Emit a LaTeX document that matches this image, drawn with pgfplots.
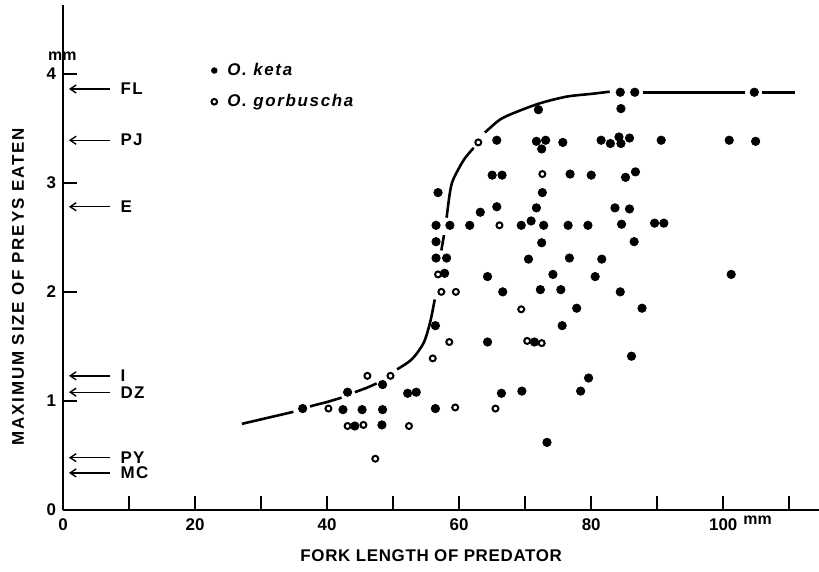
\documentclass[border=0pt]{standalone}
\usepackage{pgfplots}
\pgfplotsset{compat=1.18}
\usepackage{pgfplotstable}
\usepackage{fontspec}
\setmainfont{Liberation Sans}
\usetikzlibrary{arrows.meta}

\pgfplotstableread{
x y
36.3 0.93
43.1 1.08
42.4 0.92
45.3 0.92
48.4 0.92
44.2 0.77
48.3 0.78
48.4 1.15
52.2 1.07
53.5 1.08
56.5 2.31
58.1 2.31
57.8 2.17
64.3 2.14
74.2 2.16
80.6 2.14
66.6 2.00
72.3 2.02
75.4 2.02
77.8 1.85
56.4 1.69
75.6 1.69
64.3 1.54
71.4 1.54
79.6 1.21
66.4 1.07
69.5 1.09
78.4 1.09
56.4 0.93
73.3 0.62
72.0 3.67
65.7 3.39
71.7 3.38
73.1 3.39
72.5 3.31
75.7 3.37
81.5 3.39
82.9 3.36
84.2 3.42
84.5 3.36
85.8 3.41
65.0 3.07
66.5 3.07
76.8 3.08
80.0 3.07
56.8 2.91
72.6 2.91
65.7 2.78
63.2 2.73
71.7 2.77
70.9 2.65
56.5 2.61
58.6 2.61
61.6 2.61
69.4 2.61
72.8 2.61
76.5 2.61
79.5 2.61
56.5 2.46
72.5 2.45
70.5 2.30
76.7 2.31
81.6 2.30
84.4 3.83
86.6 3.83
104.7 3.83
84.5 3.68
90.6 3.39
100.9 3.39
104.9 3.38
85.2 3.05
86.7 3.10
83.6 2.77
85.8 2.76
84.6 2.62
89.6 2.63
91.0 2.63
86.5 2.46
101.2 2.16
84.4 2.00
87.7 1.85
86.1 1.41
}\keta

\pgfplotstableread{
x y
40.2 0.93
46.1 1.23
49.6 1.23
43.1 0.77
45.5 0.78
52.4 0.77
47.3 0.47
56.0 1.39
56.8 2.16
57.3 2.00
59.5 2.00
69.4 1.84
58.5 1.54
70.3 1.55
72.5 1.53
59.4 0.94
65.5 0.93
62.9 3.37
72.6 3.08
66.1 2.61
}\gorb

\newcommand\lblfont{\fontsize{8.5}{10}\selectfont\bfseries\addfontfeature{LetterSpace=8}}
\newcommand\ylblfont{\fontsize{8.5}{10}\selectfont\bfseries\addfontfeature{LetterSpace=11}}
\newcommand\xlblfont{\fontsize{8.5}{10}\selectfont\bfseries\addfontfeature{LetterSpace=4}}

\begin{document}
\begin{tikzpicture}
\begin{axis}[
  at={(0,0)}, anchor=south west,
  scale only axis, width=378bp, height=252.5bp,
  xmin=0, xmax=114.5, ymin=0, ymax=4.63,
  clip=false,
  axis lines=left,
  axis line style={-, line width=1.4pt},
  tick align=inside,
  tick style={black, line width=1pt},
  major tick length=7bp,
  minor tick length=7bp,
  xtick={0,20,...,100},
  minor xtick={10,30,...,110},
  ytick={0,1,2,3,4},
  /pgf/number format/assume math mode=true,
  ticklabel style={font=\fontsize{8.5}{10}\selectfont\bfseries},
  xticklabel style={yshift=-1bp},
  xlabel={FORK LENGTH OF PREDATOR},
  ylabel={MAXIMUM SIZE OF PREYS EATEN},
  xlabel style={at={(axis description cs:0.487,-0.0911)}, anchor=center, font=\xlblfont},
  ylabel style={at={(axis description cs:-0.0595,0.4416)}, anchor=center, font=\ylblfont},
  legend style={at={(axis description cs:0.193,0.894)}, anchor=north west,
    draw=none, fill=none, font=\fontsize{8.5}{10}\selectfont\bfseries\itshape\addfontfeature{LetterSpace=10},
    row sep=4bp, inner sep=0pt},
  legend cell align=left,
  legend image code/.code={%
    \path[draw=none] (-1bp,0) -- (6bp,0);
    \draw[#1, mark size=1.4pt] plot coordinates {(1.5bp,0bp)};},
]
% curve segments
\addplot[forget plot, black, line width=1.3pt] coordinates {(27.1,0.79) (31,0.845) (34.9,0.90)};
\addplot[forget plot, black, line width=1.3pt] coordinates {(37.4,0.95) (40,0.99) (42.2,1.03)};
\addplot[forget plot, black, line width=1.3pt] coordinates {(44.2,1.08) (46,1.12) (47.5,1.16)};
\addplot[forget plot, black, line width=1.3pt, smooth] coordinates {(50.6,1.29) (52.8,1.38) (54.6,1.53) (55.6,1.72) (56.3,1.93)};
\addplot[forget plot, black, line width=1.3pt] coordinates {(57.3,2.38) (57.7,2.52)};
\addplot[forget plot, black, line width=1.3pt, smooth] coordinates {(58.1,2.68) (58.6,2.91) (59.1,3.03) (60.7,3.21) (62.2,3.32)};
\addplot[forget plot, black, line width=1.3pt, smooth] coordinates {(63.9,3.46) (66.2,3.58) (68.7,3.65) (72.3,3.73) (76.3,3.79) (80,3.815) (82.8,3.835)};
\addplot[forget plot, black, line width=1.3pt] coordinates {(87.8,3.83) (103.3,3.83)};
\addplot[forget plot, black, line width=1.3pt] coordinates {(105.9,3.83) (110.9,3.83)};
% points
\addplot[only marks, mark=*, mark size=2.1pt, black] table {\keta};
\addlegendentry{O. keta}
\addplot[only marks, mark=o, mark size=1.5pt, line width=1pt, black, mark options={fill=white}] table {\gorb};
\addlegendentry{O. gorbuscha}
% annotations
\foreach \yy/\lab in {3.86/FL, 3.39/PJ, 2.78/E, 1.23/I, 1.08/DZ, 0.48/PY, 0.34/MC} {
  \edef\temp{\noexpand\draw[{Straight Barb[length=3bp,width=4bp]}-, line width=0.7pt] (axis cs:0.9,\yy) -- (axis cs:7.1,\yy) node[anchor=west, inner sep=0pt, xshift=5bp, font=\noexpand\lblfont] {\lab};}
  \temp
}
\node[font=\fontsize{8}{9}\selectfont\bfseries] at (axis cs:-0.1,4.16) {mm};
\node[font=\fontsize{8}{9}\selectfont\bfseries] at (axis cs:105.2,-0.09) {mm};
\end{axis}
\pgfresetboundingbox
\path[use as bounding box] (-31.5bp,-31bp) rectangle (378bp,255bp);
\end{tikzpicture}
\end{document}
